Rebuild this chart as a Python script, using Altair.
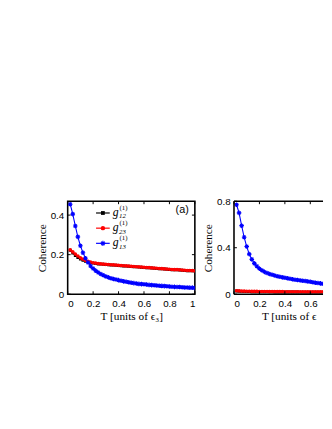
import altair as alt
import pandas as pd

# ---------------- data ----------------
T = [0.02, 0.04, 0.06, 0.08, 0.10, 0.12, 0.14, 0.16, 0.18, 0.20,
     0.22, 0.24, 0.26, 0.28, 0.30, 0.32, 0.34, 0.36, 0.38, 0.40,
     0.42, 0.44, 0.46, 0.48, 0.50, 0.52, 0.54, 0.56, 0.58, 0.60,
     0.62, 0.64, 0.66, 0.68, 0.70, 0.72, 0.74, 0.76, 0.78, 0.80,
     0.82, 0.84, 0.86, 0.88, 0.90, 0.92, 0.94, 0.96, 0.98, 1.00]

left_g12 = [0.222, 0.208, 0.196, 0.186, 0.178, 0.172, 0.167, 0.163, 0.160, 0.157,
            0.155, 0.153, 0.152, 0.151, 0.150, 0.149, 0.148, 0.147, 0.146, 0.145,
            0.144, 0.143, 0.142, 0.141, 0.140, 0.139, 0.138, 0.137, 0.136, 0.135,
            0.134, 0.133, 0.132, 0.131, 0.130, 0.129, 0.128, 0.127, 0.126, 0.125,
            0.124, 0.123, 0.123, 0.122, 0.121, 0.120, 0.119, 0.119, 0.118, 0.117]
left_g23 = [0.224, 0.214, 0.203, 0.193, 0.184, 0.177, 0.171, 0.166, 0.162, 0.159,
            0.157, 0.155, 0.153, 0.152, 0.151, 0.150, 0.149, 0.148, 0.147, 0.146,
            0.145, 0.144, 0.143, 0.142, 0.141, 0.140, 0.139, 0.138, 0.137, 0.136,
            0.135, 0.134, 0.133, 0.132, 0.131, 0.130, 0.129, 0.128, 0.127, 0.126,
            0.125, 0.124, 0.124, 0.123, 0.122, 0.121, 0.120, 0.120, 0.119, 0.118]
left_g13 = [0.455, 0.405, 0.345, 0.290, 0.245, 0.210, 0.182, 0.160, 0.143, 0.130,
            0.119, 0.110, 0.102, 0.096, 0.090, 0.085, 0.081, 0.077, 0.074, 0.071,
            0.068, 0.065, 0.063, 0.060, 0.058, 0.056, 0.054, 0.052, 0.051, 0.050,
            0.049, 0.047, 0.046, 0.045, 0.044, 0.043, 0.042, 0.041, 0.040, 0.039,
            0.038, 0.037, 0.036, 0.036, 0.035, 0.034, 0.034, 0.033, 0.033, 0.032]

right_g12 = [0.027, 0.025, 0.024, 0.023, 0.022, 0.022, 0.021, 0.021, 0.021, 0.020,
             0.020, 0.020, 0.020, 0.020, 0.020, 0.019, 0.019, 0.019, 0.019, 0.019,
             0.019, 0.019, 0.019, 0.019, 0.019, 0.018, 0.018, 0.018, 0.018, 0.018,
             0.018, 0.018, 0.018, 0.018, 0.018, 0.018, 0.018, 0.018, 0.018, 0.018,
             0.017, 0.017, 0.017, 0.017, 0.017, 0.017, 0.017, 0.017, 0.017, 0.017]
right_g23 = [0.030, 0.028, 0.027, 0.026, 0.025, 0.025, 0.024, 0.024, 0.024, 0.023,
             0.023, 0.023, 0.023, 0.022, 0.022, 0.022, 0.022, 0.022, 0.022, 0.021,
             0.021, 0.021, 0.021, 0.021, 0.021, 0.021, 0.021, 0.020, 0.020, 0.020,
             0.020, 0.020, 0.020, 0.020, 0.020, 0.020, 0.020, 0.020, 0.020, 0.020,
             0.019, 0.019, 0.019, 0.019, 0.019, 0.019, 0.019, 0.019, 0.019, 0.019]
right_g13 = [0.770, 0.700, 0.590, 0.490, 0.410, 0.345, 0.300, 0.265, 0.240, 0.220,
             0.205, 0.192, 0.182, 0.174, 0.167, 0.161, 0.155, 0.150, 0.145, 0.141,
             0.137, 0.133, 0.129, 0.125, 0.122, 0.119, 0.116, 0.113, 0.110, 0.107,
             0.103, 0.099, 0.096, 0.093, 0.090, 0.088, 0.086, 0.084, 0.082, 0.080,
             0.078, 0.077, 0.075, 0.074, 0.072, 0.071, 0.070, 0.069, 0.068, 0.067]

series_order = ["g12", "g23", "g13"]
sub_labels = ["12", "23", "13"]
colors = ["#000000", "#ff0000", "#0000ff"]
x_ticks = [0, 0.2, 0.4, 0.6, 0.8, 1]
right_x_ticks = [0, 0.2, 0.4, 0.6]
left_y_ticks = [0, 0.2, 0.4]
right_y_ticks = [0, 0.4, 0.8]

# ---------------- styling ----------------
W, H = 130, 95
WR = 91            # visible part of the (cut-off) right panel
SANS = "Liberation Sans"
SERIF = "Liberation Serif"
ASTERISK = "M-1,0L1,0M0,-1L0,1M-0.7,-0.7L0.7,0.7M-0.7,0.7L0.7,-0.7"


def marker_mark(s):
    if s == "g12":
        return dict(shape="square", filled=True, size=9, color="#000000", opacity=1)
    if s == "g23":
        return dict(shape="circle", filled=True, size=14, color="#ff0000", opacity=1)
    return dict(shape=ASTERISK, filled=False, size=22, strokeWidth=1.1, color="#0000ff", opacity=1)


def panel(g12, g23, g13, xdom, xticks, ydom, yticks, w, xtitle, cut=False):
    n = len(T)
    df = pd.DataFrame({
        "T": T * 3,
        "value": g12 + g23 + g13,
        "series": ["g12"] * n + ["g23"] * n + ["g13"] * n,
    })
    if cut:
        xaxis = alt.Axis(values=xticks, format="~g", title=xtitle, titleAnchor="start",
                         titleAlign="left", titleX=28)
    else:
        xaxis = alt.Axis(values=xticks, format="~g", title=xtitle)
    xenc = alt.X("T:Q", scale=alt.Scale(domain=xdom, nice=False), axis=xaxis)
    yenc = alt.Y("value:Q", scale=alt.Scale(domain=ydom, nice=False),
                 axis=alt.Axis(values=yticks, format="~g", title="Coherence"))
    base = alt.Chart(df)
    layers = []
    for s, c in zip(series_order, colors):
        sub = base.transform_filter(alt.datum.series == s)
        layers.append(sub.mark_line(color=c, strokeWidth=1.1, clip=True).encode(x=xenc, y=yenc))
        layers.append(sub.mark_point(clip=True, **marker_mark(s)).encode(x=xenc, y=yenc))
    # inward tick marks on the box
    xt = alt.Chart(pd.DataFrame({"T": xticks}))
    yt = alt.Chart(pd.DataFrame({"value": yticks}))
    layers.append(xt.mark_rule(color="black", strokeWidth=1).encode(x=xenc, y=alt.value(0), y2=alt.value(3)))
    layers.append(xt.mark_rule(color="black", strokeWidth=1).encode(x=xenc, y=alt.value(H), y2=alt.value(H - 3)))
    layers.append(yt.mark_rule(color="black", strokeWidth=1).encode(y=yenc, x=alt.value(0), x2=alt.value(3)))
    if not cut:
        layers.append(yt.mark_rule(color="black", strokeWidth=1).encode(y=yenc, x=alt.value(w), x2=alt.value(w - 3)))
    else:
        # box edges for the cut-off panel (no right edge visible)
        one = alt.Chart(pd.DataFrame({"k": [0]}))
        layers.append(one.mark_rule(color="black", strokeWidth=1.6).encode(
            x=alt.value(0), x2=alt.value(w), y=alt.value(0)))
        layers.append(one.mark_rule(color="black", strokeWidth=1.6).encode(
            x=alt.value(0), x2=alt.value(w), y=alt.value(H)))
        layers.append(one.mark_rule(color="black", strokeWidth=1.6).encode(
            x=alt.value(0), y=alt.value(0), y2=alt.value(H)))
    return alt.layer(*layers)


left_data = panel(left_g12, left_g23, left_g13, [0, 1], x_ticks, [0, 0.47], left_y_ticks, W,
                  "T [units of ϵ₃]")

# legend (left panel only)
leg_df = pd.DataFrame({"series": series_order, "sub": sub_labels, "g": ["g"] * 3, "sup": ["(1)"] * 3})
leg_y = alt.Y("series:N", scale=alt.Scale(type="point", domain=series_order, range=[12, 43], padding=0),
              axis=None)
leg_color = alt.Color("series:N", scale=alt.Scale(domain=series_order, range=colors), legend=None)
leg_base = alt.Chart(leg_df)
leg_layers = [
    leg_base.mark_rule(strokeWidth=1.2).encode(x=alt.value(29), x2=alt.value(43), y=leg_y, color=leg_color)
]
for s in series_order:
    m = marker_mark(s)
    m["size"] = m["size"] + 6
    leg_layers.append(leg_base.transform_filter(alt.datum.series == s).mark_point(**m)
                      .encode(x=alt.value(36), y=leg_y))
leg_layers.append(leg_base.mark_text(font=SERIF, fontStyle="italic", fontSize=12, align="left",
                                     baseline="middle", dy=-1)
                  .encode(x=alt.value(46), y=leg_y, text="g:N"))
leg_layers.append(leg_base.mark_text(font=SERIF, fontStyle="italic", fontSize=7, align="left",
                                     baseline="middle", dy=3.5)
                  .encode(x=alt.value(52.5), y=leg_y, text="sub:N"))
leg_layers.append(leg_base.mark_text(font=SERIF, fontStyle="normal", fontSize=7, align="left",
                                     baseline="middle", dy=-5)
                  .encode(x=alt.value(53), y=leg_y, text="sup:N"))
leg_layers.append(alt.Chart(pd.DataFrame({"t": ["(a)"]})).mark_text(
    font=SANS, fontSize=11, align="center", baseline="middle")
    .encode(x=alt.value(117), y=alt.value(9), text="t:N"))
legend = alt.layer(*leg_layers)

left = alt.layer(left_data, legend).resolve_scale(y="independent").properties(width=W, height=H)
right = panel(right_g12, right_g23, right_g13, [0, WR / W], right_x_ticks, [0, 0.8], right_y_ticks,
              WR, "T [units of ϵ", cut=True).properties(
    width=WR, height=H, view=alt.ViewConfig(stroke=None))

chart = alt.hconcat(left, right, spacing=6).properties(
    padding={"left": 28, "top": 189, "right": 0, "bottom": 0},
    background="white",
).configure_view(
    stroke="black", strokeWidth=1.6
).configure_axis(
    domain=False, ticks=False, grid=False,
    labelFont=SANS, labelFontSize=10, labelColor="black", labelPadding=4,
    titleFont=SERIF, titleFontSize=11.5, titleColor="black", titleFontWeight="normal",
    titlePadding=3,
).configure_axisX(
    labelPadding=5, titlePadding=2,
)

chart.save("out.html", embed_options={"renderer": "svg", "actions": False})
